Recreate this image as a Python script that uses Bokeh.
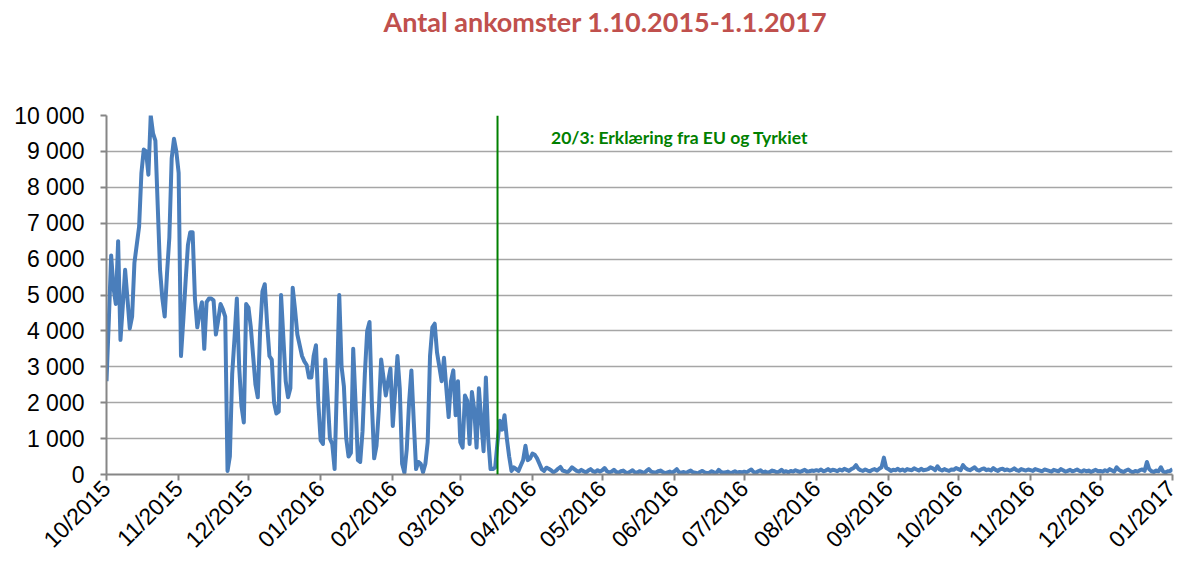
import math
import pandas as pd
from bokeh.plotting import figure
from bokeh.layouts import column
from bokeh.models import (ColumnDataSource, DatetimeTickFormatter, FixedTicker,
                          CustomJSTickFormatter, Label, Span, Range1d, Div)
from bokeh.embed import file_html
from bokeh.resources import INLINE

# ---- data: daily arrivals ----
oct_2015 = [2600, 4300, 6100, 5200, 4750, 6500, 3750, 4700, 5700, 4900, 4070, 4400, 5900, 6400, 6900, 8400,
            9050, 9000, 8350, 10000, 9500, 9300, 7500, 5700, 4900, 4400, 5600, 6600, 8800, 9350, 9000]
nov_2015 = [8400, 3300, 4300, 5400, 6400, 6750, 6750, 4900, 4100, 4500, 4800, 3500, 4800, 4900, 4900,
            4850, 3900, 4300, 4750, 4600, 4400, 100, 500, 2800, 3800, 4900, 3000, 1900, 1450, 4750]
dec_2015 = [4650, 4100, 3300, 2500, 2150, 4000, 5100, 5300, 4200, 3300, 3200, 2000, 1700, 1750, 5000, 3800,
            2600, 2150, 2400, 5200, 4600, 3900, 3600, 3300, 3150, 3050, 2700, 2700, 3300, 3600, 2000]
jan_2016 = [950, 850, 3200, 2150, 1000, 850, 150, 2500, 5000, 3000, 2450, 1000, 500, 600, 3500, 2000,
            400, 350, 1200, 2800, 4000, 4250, 2000, 450, 800, 1800, 3200, 2700, 2200, 2600, 2950]
feb_2016 = [1350, 2300, 3300, 2400, 300, 50, 700, 2000, 2900, 1500, 150, 350, 300, 60, 300, 900,
            3300, 4100, 4200, 3400, 3000, 2600, 3250, 2400, 1600, 2600, 2900, 1650, 2600]
mar_2016 = [900, 750, 2200, 2050, 850, 2300, 1800, 750, 2400, 1500, 650, 2700, 1000, 150, 150, 200,
            900, 1500, 1250, 1650, 1000, 500, 100, 200, 150, 100, 250, 400, 800, 400, 450]
apr_2016 = [580, 550, 450, 300, 150, 100, 190, 160, 120, 60, 100, 160, 210, 110, 90, 60,
            120, 200, 150, 100, 80, 130, 90, 60, 110, 150, 90, 70, 120, 80]
may_2016 = [120, 180, 90, 60, 80, 130, 70, 50, 90, 110, 60, 40, 80, 120, 60, 50,
            90, 70, 40, 100, 150, 80, 60, 50, 90, 110, 70, 40, 60, 80, 50]
jun_2016 = [90, 150, 60, 50, 70, 40, 80, 110, 60, 50, 30, 70, 100, 60, 40, 50,
            90, 60, 40, 130, 70, 50, 60, 80, 40, 60, 90, 50, 70, 60]
jul_2016 = [80, 60, 100, 140, 70, 50, 90, 120, 60, 80, 50, 70, 110, 90, 60, 80,
            130, 70, 90, 60, 100, 80, 120, 90, 70, 100, 130, 80, 90, 110, 100]
aug_2016 = [120, 100, 140, 90, 110, 150, 100, 130, 120, 90, 140, 110, 160, 130, 100, 150,
            180, 260, 160, 120, 100, 140, 110, 90, 130, 150, 110, 160, 200, 470, 180]
sep_2016 = [150, 100, 130, 120, 160, 110, 140, 100, 150, 130, 120, 170, 140, 110, 160, 120,
            130, 150, 200, 170, 120, 230, 140, 110, 150, 120, 100, 140, 130, 180]
oct_2016 = [150, 120, 260, 180, 140, 120, 160, 200, 130, 110, 150, 170, 120, 140, 110, 180,
            130, 100, 150, 160, 120, 140, 110, 130, 170, 120, 100, 150, 130, 110, 140]
nov_2016 = [120, 100, 150, 130, 110, 90, 140, 120, 100, 80, 130, 110, 90, 150, 120, 80,
            100, 130, 90, 110, 140, 100, 80, 120, 90, 110, 70, 100, 130, 90]
dec_2016 = [100, 80, 120, 90, 150, 110, 80, 200, 130, 90, 70, 110, 140, 90, 60, 100,
            80, 120, 140, 100, 350, 150, 90, 70, 110, 90, 200, 80, 60, 90, 100]
jan_2017 = [150]

month_starts = ["2015-10-01", "2015-11-01", "2015-12-01", "2016-01-01", "2016-02-01", "2016-03-01",
                "2016-04-01", "2016-05-01", "2016-06-01", "2016-07-01", "2016-08-01", "2016-09-01",
                "2016-10-01", "2016-11-01", "2016-12-01", "2017-01-01"]
month_values = [oct_2015, nov_2015, dec_2015, jan_2016, feb_2016, mar_2016, apr_2016, may_2016,
                jun_2016, jul_2016, aug_2016, sep_2016, oct_2016, nov_2016, dec_2016, jan_2017]

y_ticks = list(range(0, 10001, 1000))
title_text = "Antal ankomster 1.10.2015-1.1.2017"
event_date = "2016-03-17"
event_text = "20/3:  Erklæring fra EU og Tyrkiet"

dates, vals = [], []
for ms, lst in zip(month_starts, month_values):
    dates += list(pd.date_range(ms, periods=len(lst), freq="D"))
    vals += lst
src = ColumnDataSource(data=dict(date=dates, value=vals))

def ms_of(d):
    return pd.Timestamp(d).value / 1e6

TITLE_H = 44

title_div = Div(
    text=('<div style="position:absolute; left:605px; top:22px; transform:translate(-50%,-50%);'
          ' white-space:nowrap; font-family:Lato; font-weight:bold; font-size:27px;'
          ' color:#C0504D;">' + title_text + '</div>'),
    width=1180, height=TITLE_H, margin=(0, 0, 0, 0),
    styles={"position": "relative"})

p = figure(width=1180, height=567 - TITLE_H, x_axis_type="datetime",
           x_range=Range1d(pd.Timestamp(month_starts[0]), pd.Timestamp(month_starts[-1])),
           y_range=Range1d(0, 10000),
           output_backend="svg", toolbar_location=None, margin=(0, 0, 0, 0),
           min_border_left=106, min_border_right=8, min_border_top=115 - TITLE_H,
           min_border_bottom=93)
p.outline_line_color = None
p.background_fill_color = "white"
p.border_fill_color = "white"

p.line(x="date", y="value", source=src, line_color="#4A7EBB", line_width=4, line_join="round")

# event line and note
p.add_layout(Span(location=ms_of(event_date), dimension="height",
                  line_color="#008000", line_width=2))
p.add_layout(Label(x=ms_of("2016-04-09"), y=9400, text=event_text, text_font="Lato",
                   text_font_style="bold", text_font_size="17.5px", text_color="#008000",
                   text_baseline="middle"))

# axes
p.xaxis.ticker = FixedTicker(ticks=[ms_of(m) for m in month_starts])
p.xaxis.formatter = DatetimeTickFormatter(days="%m/%Y", months="%m/%Y", years="%m/%Y")
p.xaxis.major_label_orientation = math.pi / 4
p.yaxis.ticker = FixedTicker(ticks=y_ticks)
p.yaxis.formatter = CustomJSTickFormatter(
    code="return tick.toString().replace(/\\B(?=(\\d{3})+(?!\\d))/g, ' ');")
for ax in (p.xaxis, p.yaxis):
    ax.axis_line_color = "#868686"
    ax.axis_line_width = 2
    ax.major_tick_line_color = "#868686"
    ax.major_tick_line_width = 2
    ax.major_tick_in = 0
    ax.major_tick_out = 6
    ax.minor_tick_line_color = None
    ax.major_label_text_font = "Liberation Sans"
    ax.major_label_text_font_size = "23px"
    ax.major_label_text_color = "black"
p.yaxis.major_label_standoff = 16
p.xaxis.major_label_standoff = 4

p.xgrid.grid_line_color = None
p.ygrid.grid_line_color = "#A6A6A6"
p.ygrid.grid_line_width = 1.5

layout = column(title_div, p, spacing=0, margin=(0, 0, 0, 0))
open("out.html", "w").write(file_html(layout, INLINE))
